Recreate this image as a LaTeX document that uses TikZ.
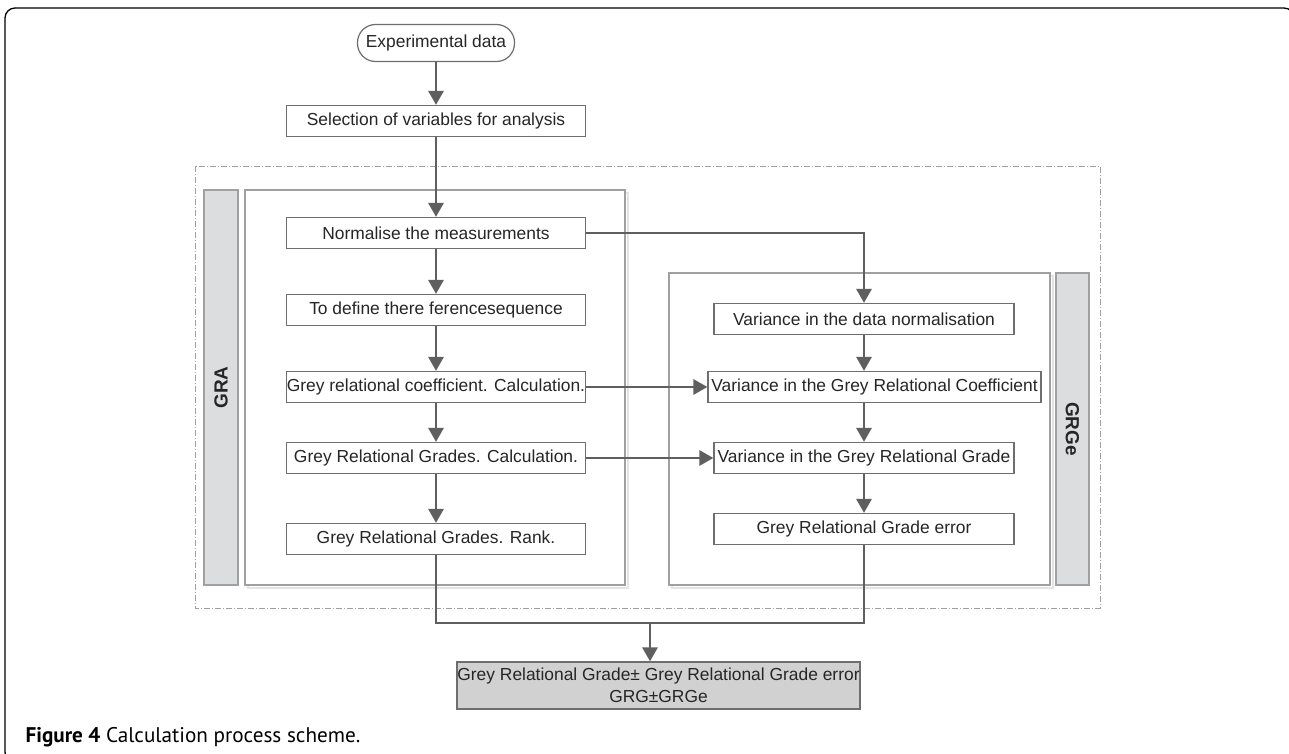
\documentclass[tikz,border=0pt]{standalone}
\usepackage{fontspec}
\setmainfont{Liberation Sans}
\newfontfamily\capfont{PT Sans}
\usetikzlibrary{arrows.meta,positioning,calc}

\definecolor{linegrey}{RGB}{95,95,95}
\definecolor{boxgrey}{RGB}{110,110,110}
\definecolor{panelgrey}{RGB}{160,160,160}
\definecolor{shadowgrey}{RGB}{228,228,228}
\definecolor{barfill}{RGB}{220,221,222}
\definecolor{resfill}{RGB}{208,209,208}

\tikzset{
  stepbox/.style={draw=boxgrey, line width=1.2pt, fill=white, minimum width=299pt, minimum height=31pt,
    inner sep=0pt, text=black!85, font=\fontsize{17.4}{20}\selectfont},
  flow/.style={draw=linegrey, line width=2.8pt, -{Triangle[width=15pt,length=14pt]}},
  link/.style={draw=linegrey, line width=2.8pt},
  panel/.style={draw=panelgrey, line width=1.3pt},
  sidebar/.style={draw=panelgrey, line width=1.5pt, fill=barfill, inner sep=0pt, text=black!85,
    font=\bfseries\fontsize{19}{22}\selectfont},
}

\begin{document}
\begin{tikzpicture}[x=1pt, y=-1pt]
  \useasboundingbox (0,0) rectangle (1289,754);
  \clip (0,0) rectangle (1289,754);
  % frame and groups
  \draw[line width=1.3pt, rounded corners=10pt] (5,8) rectangle (1294,762);
  \draw[panelgrey, line width=0.9pt, dash pattern=on 6pt off 2pt on 1pt off 2pt] (195,166) rectangle (1100,608);
  \draw[shadowgrey, line width=1.3pt] (248,193) rectangle (628,588);
  \draw[shadowgrey, line width=1.3pt] (672,276) rectangle (1053,588);
  \draw[panel, fill=white] (245,190) rectangle (625,585);
  \draw[panel, fill=white] (669,273) rectangle (1050,585);
  \node[sidebar, rotate=90, minimum width=395pt, minimum height=34pt] (grabar) at (221,387.5) {GRA};
  \node[sidebar, rotate=-90, minimum width=312pt, minimum height=33pt] (grgebar) at (1072.5,429) {GRGe};

  % steps
  \node[stepbox, rounded corners=18pt, minimum width=157pt, minimum height=37pt] (exp) at (436,43) {Experimental data};
  \node[stepbox] (sel) at (436,121) {Selection of variables for analysis};
  \node[stepbox] (norm) at (436,233) {Normalise the measurements};
  \node[stepbox] (refseq) at (436,310) {To define there ferencesequence};
  \node[stepbox] (coef) at (436,387) {Grey relational coefficient. Calculation.};
  \node[stepbox] (gradecalc) at (436,458) {Grey Relational Grades. Calculation.};
  \node[stepbox] (rank) at (436,539) {Grey Relational Grades. Rank.};

  \node[stepbox, minimum width=300pt] (varnorm) at (864,319) {Variance in the data normalisation};
  \node[stepbox, minimum width=333pt] (varcoef) at (874.5,387) {Variance in the Grey Relational Coefficient};
  \node[stepbox, minimum width=300pt] (vargrade) at (864,458) {Variance in the Grey Relational Grade};
  \node[stepbox, minimum width=300pt] (graderr) at (864,529) {Grey Relational Grade error};

  \node[stepbox, fill=resfill, minimum width=403pt, minimum height=47pt, align=center,
    font=\fontsize{17.4}{22}\selectfont] (result) at (658.5,685.5)
    {Grey Relational Grade\textpm{} Grey Relational Grade error\\GRG\textpm GRGe};

  % connectors
  \draw[flow] (exp) -- (sel);
  \draw[flow] (sel) -- (norm);
  \draw[flow] (norm) -- (refseq);
  \draw[flow] (refseq) -- (coef);
  \draw[flow] (coef) -- (gradecalc);
  \draw[flow] (gradecalc) -- (rank);
  \draw[flow] (norm.east) -| (varnorm.north);
  \draw[flow] (varnorm) -- (varnorm.south |- varcoef.north);
  \draw[flow] (varnorm.south |- varcoef.south) -- (vargrade);
  \draw[flow] (vargrade) -- (graderr);
  \draw[flow] (coef.east) -- (varcoef.west);
  \draw[flow] (gradecalc.east) -- (vargrade.west);
  \coordinate (join) at (650,623);
  \draw[link] (rank.south) |- (join) -| (graderr.south);
  \draw[flow] (join) -- (join |- result.north);

  \node[anchor=base west, font=\capfont\fontsize{21.2}{24}\selectfont] (caption) at (22,742)
    {\textbf{Figure 4} Calculation process scheme.};
\end{tikzpicture}
\end{document}
